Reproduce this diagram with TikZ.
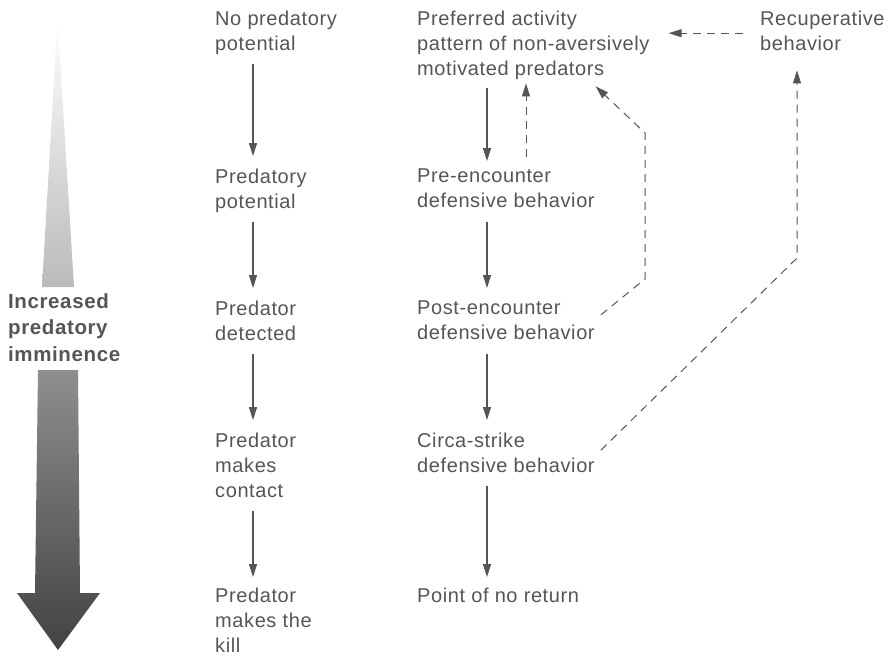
\documentclass[tikz,border=0pt]{standalone}
\usepackage{fontspec}
\setmainfont{Liberation Sans}[LetterSpace=3]
\usetikzlibrary{arrows.meta,calc}
\definecolor{ink}{HTML}{555555}
\tikzset{
  lbl/.style={anchor=north west, inner sep=0pt, align=left, text=ink,
    font=\fontsize{20}{25}\selectfont, text depth=4.5pt},
  flow/.style={draw=ink, line width=1.1pt, -{Triangle[length=13pt,width=8pt]}},
  back/.style={flow, line width=1pt, dash pattern=on 8pt off 6pt},
}
\begin{document}
\begin{tikzpicture}[x=1pt,y=-1pt]
\useasboundingbox (0,0) rectangle (889,657);

% imminence gradient arrow
\shade[top color=white, bottom color=black!27]
  (57.5,18) -- (74,287) -- (42,287) -- cycle;
\shade[top color=black!44, bottom color=black!74]
  (38,370) -- (78,370) -- (80,593) -- (100,593) -- (58,650)
  -- (17,593) -- (35,593) -- cycle;
\node[anchor=north west, inner sep=0pt, align=left, text=ink,
  font=\bfseries\fontsize{20.5}{26.5}\selectfont] (imm) at (8,293)
  {Increased\\predatory\\imminence};

% predator states
\node[lbl] (np) at (215,11) {No predatory\\potential};
\node[lbl] (pp) at (215,169) {Predatory\\potential};
\node[lbl] (pd) at (215,301) {Predator\\detected};
\node[lbl] (pc) at (215,433) {Predator\\makes\\contact};
\node[lbl] (pk) at (215,588) {Predator\\makes the\\kill};

% defensive modes
\node[lbl] (pref) at (417,11) {Preferred activity\\pattern of non-aversively\\motivated predators};
\node[lbl] (pre) at (417,169) {Pre-encounter\\defensive behavior};
\node[lbl] (post) at (417,301) {Post-encounter\\defensive behavior};
\node[lbl] (circa) at (417,433) {Circa-strike\\defensive behavior};
\node[lbl] (ponr) at (417,588) {Point of no return};
\node[lbl] (rec) at (760,11) {Recuperative\\behavior};

\coordinate (c1) at (253,0);
\coordinate (c2) at (487,0);
\coordinate (c3) at (526,0);
\coordinate (c4) at (797,0);
\coordinate (k1) at (645,279);
\coordinate (k2) at (645,133);
\coordinate (k3) at (797,258);

% forward transitions
\draw[flow, shorten <=9pt, shorten >=13pt] (np.south -| c1) -- (pp.north -| c1);
\draw[flow, shorten <=9pt, shorten >=13pt] (pp.south -| c1) -- (pd.north -| c1);
\draw[flow, shorten <=9pt, shorten >=13pt] (pd.south -| c1) -- (pc.north -| c1);
\draw[flow, shorten <=9pt, shorten >=11pt] (pc.south -| c1) -- (pk.north -| c1);

\draw[flow, shorten <=8pt, shorten >=8pt] (pref.south -| c2) -- (pre.north -| c2);
\draw[flow, shorten <=9pt, shorten >=13pt] (pre.south -| c2) -- (post.north -| c2);
\draw[flow, shorten <=9pt, shorten >=13pt] (post.south -| c2) -- (circa.north -| c2);
\draw[flow, shorten <=9pt, shorten >=11pt] (circa.south -| c2) -- (ponr.north -| c2);

% return paths
\draw[back, shorten <=12pt, shorten >=3pt] (pre.north -| c3) -- (pref.south -| c3);
\draw[back] ($(post.east)+(6,-8)$) -- (k1) -- (k2) -- ($(pref.south east)+(-54,6)$);
\draw[back, shorten >=15pt] ($(circa.east)+(6,-5)$) -- (k3) -- (rec.south -| c4);
\draw[back, shorten <=17pt, shorten >=19pt] (rec.west) -- (pref.east |- rec.west);
\end{tikzpicture}
\end{document}
